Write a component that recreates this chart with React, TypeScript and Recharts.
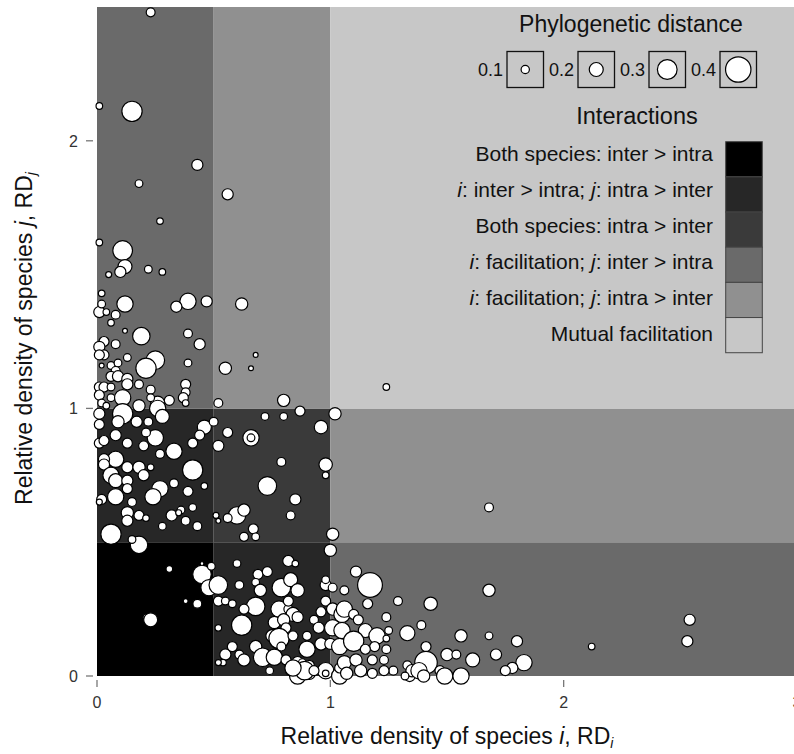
import React from 'react'
import { Label, ReferenceArea, Scatter, ScatterChart, XAxis, YAxis } from 'recharts'

const FONT = '"Liberation Sans", Arial, Helvetica, sans-serif'

// relative density of species i (x) and j (y), phylogenetic distance of the pair (bubble size)
const rdI = [
  0.23, 0.01, 0.15, 0.43, 0.18, 0.56, 0.27, 0.01, 0.11, 0.12,
  0.10, 0.05, 0.22, 0.28, 0.02, 0.39, 0.34, 0.47, 0.62, 0.12,
  0.01, 0.02, 0.04, 0.08, 0.06, 0.12, 0.19, 0.39, 0.44, 0.03,
  0.01, 0.03, 0.01, 0.08, 0.13, 0.25, 0.21, 0.39, 0.68, 0.66,
  0.55, 0.02, 0.06, 0.09, 0.08, 0.06, 0.09, 0.13, 0.13, 0.18,
  0.38, 0.38, 0.37, 0.01, 0.03, 0.06, 0.01, 0.06, 0.11, 0.23,
  0.26, 0.31, 0.23, 0.02, 0.04, 0.11, 0.18, 0.26, 0.28, 0.22,
  0.17, 0.09, 0.01, 0.01, 0.38, 0.01, 0.03, 0.08, 0.13, 0.25,
  0.20, 0.21, 0.46, 0.50, 0.44, 0.41, 0.33, 0.27, 0.08, 0.03,
  0.03, 0.13, 0.18, 0.20, 0.23, 0.41, 0.06, 0.08, 0.13, 0.13,
  0.33, 0.27, 0.24, 0.39, 0.46, 0.08, 0.02, 0.01, 0.15, 0.18,
  0.13, 0.13, 0.21, 0.32, 0.36, 0.41, 0.38, 0.43, 0.35, 0.28,
  0.06, 0.18, 0.15, 0.51, 0.52, 0.52, 0.80, 0.56, 0.52, 0.72,
  0.80, 0.87, 1.02, 0.66, 0.66, 0.96, 0.79, 0.98, 0.98, 0.73,
  0.85, 0.60, 0.63, 0.56, 0.83, 0.67, 0.68, 0.63, 1.01, 1.24,
  1.00, 0.82, 0.85, 0.60, 0.31, 0.45, 0.48, 0.52, 0.45, 0.49,
  0.61, 0.69, 0.73, 0.68, 0.70, 0.79, 0.83, 0.86, 0.98, 0.98,
  1.01, 0.52, 0.43, 0.38, 0.55, 0.58, 0.68, 0.63, 0.78, 0.82,
  0.84, 0.82, 0.98, 1.01, 1.05, 0.21, 0.23, 0.52, 0.62, 0.76,
  0.80, 0.81, 0.86, 0.93, 0.95, 1.01, 0.96, 0.75, 0.78, 0.84,
  0.90, 0.68, 0.79, 0.90, 0.96, 1.00, 1.04, 0.58, 0.55, 0.61,
  0.63, 0.54, 0.52, 0.71, 0.76, 0.81, 0.86, 0.88, 0.91, 0.98,
  0.98, 0.74, 0.83, 0.86, 0.91, 1.04, 1.04, 1.11, 1.17, 1.06,
  1.16, 1.29, 1.43, 1.06, 1.10, 1.12, 1.24, 1.39, 1.05, 1.15,
  1.20, 1.25, 1.24, 1.33, 1.56, 1.10, 1.19, 1.24, 1.15, 1.41,
  1.41, 1.50, 1.54, 1.61, 1.06, 1.11, 1.18, 1.23, 1.33, 1.27,
  1.07, 1.13, 1.18, 1.23, 1.34, 1.35, 1.47, 1.49, 1.56, 1.38,
  1.68, 1.68, 1.68, 1.80, 2.12, 2.54, 2.53, 1.71, 1.83, 1.78,
  1.75, 1.40, 1.32, 0.89, 0.93, 0.84,
]

const rdJ = [
  2.48, 2.13, 2.11, 1.91, 1.84, 1.80, 1.70, 1.62, 1.59, 1.53,
  1.51, 1.50, 1.52, 1.51, 1.43, 1.40, 1.38, 1.40, 1.39, 1.39,
  1.36, 1.39, 1.36, 1.35, 1.32, 1.29, 1.27, 1.28, 1.24, 1.25,
  1.23, 1.20, 1.20, 1.24, 1.19, 1.18, 1.15, 1.17, 1.20, 1.15,
  1.15, 1.16, 1.16, 1.17, 1.14, 1.12, 1.12, 1.11, 1.09, 1.09,
  1.09, 1.06, 1.04, 1.08, 1.08, 1.08, 1.05, 1.04, 1.04, 1.07,
  1.02, 1.03, 1.04, 1.02, 1.01, 0.98, 1.01, 1.00, 0.97, 0.95,
  0.95, 0.95, 0.98, 0.94, 1.02, 0.87, 0.88, 0.90, 0.87, 0.89,
  0.86, 0.91, 0.93, 0.95, 0.90, 0.87, 0.84, 0.83, 0.81, 0.81,
  0.79, 0.78, 0.78, 0.75, 0.78, 0.77, 0.75, 0.73, 0.73, 0.70,
  0.72, 0.70, 0.67, 0.69, 0.71, 0.67, 0.66, 0.65, 0.65, 0.60,
  0.61, 0.58, 0.59, 0.60, 0.62, 0.63, 0.58, 0.56, 0.61, 0.56,
  0.53, 0.49, 0.51, 0.60, 0.58, 1.02, 1.03, 0.91, 0.86, 0.97,
  0.97, 0.99, 0.98, 0.89, 0.89, 0.93, 0.80, 0.79, 0.75, 0.71,
  0.66, 0.60, 0.62, 0.59, 0.60, 0.55, 0.52, 0.52, 0.53, 1.08,
  0.47, 0.43, 0.42, 0.42, 0.40, 0.38, 0.33, 0.34, 0.42, 0.41,
  0.34, 0.38, 0.39, 0.35, 0.32, 0.33, 0.36, 0.32, 0.34, 0.36,
  0.33, 0.28, 0.27, 0.28, 0.28, 0.27, 0.26, 0.25, 0.25, 0.25,
  0.23, 0.28, 0.28, 0.25, 0.23, 0.22, 0.21, 0.18, 0.19, 0.20,
  0.21, 0.18, 0.22, 0.21, 0.18, 0.18, 0.24, 0.15, 0.14, 0.15,
  0.15, 0.11, 0.11, 0.10, 0.12, 0.12, 0.11, 0.11, 0.08, 0.08,
  0.06, 0.05, 0.05, 0.07, 0.07, 0.06, 0.05, 0.05, 0.04, 0.02,
  0.01, 0.02, 0.02, 0.00, 0.01, 0.00, 0.03, 0.39, 0.34, 0.32,
  0.27, 0.28, 0.27, 0.25, 0.23, 0.21, 0.22, 0.19, 0.17, 0.17,
  0.15, 0.17, 0.14, 0.16, 0.15, 0.13, 0.11, 0.10, 0.10, 0.11,
  0.05, 0.08, 0.08, 0.06, 0.05, 0.06, 0.06, 0.06, 0.04, 0.02,
  0.01, 0.02, 0.01, 0.02, 0.00, 0.02, 0.02, 0.00, 0.00, 0.02,
  0.63, 0.32, 0.15, 0.13, 0.11, 0.21, 0.13, 0.08, 0.05, 0.03,
  0.02, 0.00, 0.00, 0.02, 0.02, 0.03,
]

const phyloDist = [
  0.11, 0.07, 0.31, 0.15, 0.09, 0.15, 0.07, 0.07, 0.30, 0.20,
  0.15, 0.06, 0.09, 0.07, 0.07, 0.24, 0.15, 0.15, 0.17, 0.24,
  0.15, 0.09, 0.07, 0.11, 0.07, 0.04, 0.26, 0.11, 0.15, 0.13,
  0.15, 0.13, 0.13, 0.11, 0.09, 0.28, 0.31, 0.09, 0.04, 0.04,
  0.17, 0.04, 0.09, 0.09, 0.11, 0.13, 0.15, 0.15, 0.15, 0.11,
  0.13, 0.11, 0.13, 0.13, 0.13, 0.09, 0.13, 0.09, 0.24, 0.11,
  0.20, 0.13, 0.09, 0.09, 0.07, 0.31, 0.17, 0.24, 0.20, 0.11,
  0.15, 0.17, 0.15, 0.13, 0.07, 0.13, 0.13, 0.15, 0.13, 0.24,
  0.13, 0.11, 0.20, 0.11, 0.13, 0.13, 0.24, 0.11, 0.24, 0.15,
  0.15, 0.15, 0.17, 0.15, 0.07, 0.31, 0.24, 0.20, 0.15, 0.13,
  0.11, 0.24, 0.24, 0.13, 0.07, 0.24, 0.13, 0.06, 0.11, 0.13,
  0.17, 0.15, 0.07, 0.15, 0.09, 0.09, 0.11, 0.11, 0.06, 0.09,
  0.31, 0.26, 0.09, 0.06, 0.04, 0.11, 0.17, 0.13, 0.15, 0.09,
  0.09, 0.13, 0.17, 0.24, 0.09, 0.19, 0.11, 0.19, 0.07, 0.28,
  0.15, 0.26, 0.17, 0.11, 0.11, 0.13, 0.09, 0.11, 0.17, 0.07,
  0.17, 0.15, 0.07, 0.09, 0.07, 0.28, 0.24, 0.28, 0.02, 0.09,
  0.11, 0.13, 0.13, 0.09, 0.17, 0.28, 0.20, 0.19, 0.15, 0.09,
  0.11, 0.13, 0.11, 0.04, 0.09, 0.09, 0.28, 0.13, 0.24, 0.11,
  0.20, 0.13, 0.13, 0.17, 0.24, 0.06, 0.20, 0.07, 0.31, 0.17,
  0.17, 0.13, 0.15, 0.11, 0.15, 0.24, 0.13, 0.17, 0.31, 0.13,
  0.11, 0.17, 0.11, 0.24, 0.17, 0.15, 0.24, 0.13, 0.15, 0.11,
  0.17, 0.07, 0.06, 0.28, 0.24, 0.13, 0.17, 0.09, 0.13, 0.24,
  0.07, 0.09, 0.13, 0.24, 0.17, 0.24, 0.13, 0.15, 0.39, 0.11,
  0.13, 0.11, 0.19, 0.24, 0.13, 0.13, 0.11, 0.11, 0.24, 0.20,
  0.24, 0.09, 0.07, 0.22, 0.17, 0.31, 0.13, 0.11, 0.13, 0.13,
  0.35, 0.17, 0.11, 0.20, 0.20, 0.17, 0.13, 0.11, 0.11, 0.11,
  0.17, 0.17, 0.13, 0.13, 0.15, 0.17, 0.13, 0.24, 0.24, 0.24,
  0.11, 0.17, 0.09, 0.15, 0.07, 0.15, 0.15, 0.15, 0.24, 0.15,
  0.13, 0.17, 0.09, 0.28, 0.13, 0.24,
]

const xTicks = [0, 1, 2, 3]
const yTicks = [0, 1, 2]
const sizeSteps = [0.1, 0.2, 0.3, 0.4]

const interactionLabels = [
  'Both species: inter > intra',
  '*i*: inter > intra; *j*: intra > inter',
  'Both species: intra > inter',
  '*i*: facilitation; *j*: inter > intra',
  '*i*: facilitation; *j*: intra > inter',
  'Mutual facilitation',
]
const interactionColors = ['#000000', '#272727', '#3a3a3a', '#6a6a6a', '#909090', '#c7c7c7']

// which interaction class each RD cell belongs to
const zones = [
  { x: [0, 0.5], y: [0, 0.5], k: 0 },
  { x: [0, 0.5], y: [0.5, 1], k: 1 },
  { x: [0.5, 1], y: [0, 0.5], k: 1 },
  { x: [0.5, 1], y: [0.5, 1], k: 2 },
  { x: [1, 3], y: [0, 0.5], k: 3 },
  { x: [0, 0.5], y: [1, 2.5], k: 3 },
  { x: [1, 3], y: [0.5, 1], k: 4 },
  { x: [0.5, 1], y: [1, 2.5], k: 4 },
  { x: [1, 3], y: [1, 2.5], k: 5 },
]

const points = rdI.map((x, i) => ({ x, y: rdJ[i], d: phyloDist[i] }))

const bubbleRadius = (d: number) => 1.3 + 28.5 * d

function Bubble(props: any) {
  if (props.cx == null || props.cy == null) return null
  return <circle cx={props.cx} cy={props.cy} r={bubbleRadius(props.payload.d)} fill="#fff" stroke="#000" strokeWidth={1.2} />
}

function XTick({ x, y, payload }: any) {
  return (
    <g>
      <line x1={x} x2={x} y1={y + 4} y2={y + 11} stroke="#777" strokeWidth={1.3} />
      <text x={x} y={y + 32} textAnchor="middle" fontSize={16} fill="#333" fontFamily={FONT}>{payload.value}</text>
    </g>
  )
}

function YTick({ x, y, payload }: any) {
  return (
    <g>
      <line x1={x - 11} x2={x - 4} y1={y} y2={y} stroke="#777" strokeWidth={1.3} />
      <text x={x - 19} y={y + 6} textAnchor="end" fontSize={16} fill="#333" fontFamily={FONT}>{payload.value}</text>
    </g>
  )
}

function XTitle({ viewBox }: any) {
  const cx = viewBox ? viewBox.x + viewBox.width / 2 : 447
  return (
    <text x={cx} y={744} textAnchor="middle" fontSize={23} fill="#111" fontFamily={FONT}>
      Relative density of species <tspan fontStyle="italic">i</tspan>, RD
      <tspan fontStyle="italic" fontSize={14} dy={4}>i</tspan>
    </text>
  )
}

function YTitle({ viewBox }: any) {
  const cy = viewBox ? viewBox.y + viewBox.height / 2 - 3 : 338
  const cx = 32
  return (
    <text x={cx} y={cy} transform={`rotate(-90, ${cx}, ${cy})`} textAnchor="middle" fontSize={23} fill="#111" fontFamily={FONT}>
      Relative density of species <tspan fontStyle="italic">j</tspan>, RD
      <tspan fontStyle="italic" fontSize={14} dy={4}>j</tspan>
    </text>
  )
}

function richText(label: string) {
  return label.split('*').map((part, i) => (
    <tspan key={i} fontStyle={i % 2 === 1 ? 'italic' : 'normal'}>{part}</tspan>
  ))
}

function LegendPanel() {
  return (
    <svg width={794} height={754} style={{ position: 'absolute', left: 0, top: 0, pointerEvents: 'none' }} fontFamily={FONT}>
      <text x={631} y={32} textAnchor="middle" fontSize={23} fill="#111">Phylogenetic distance</text>
      {sizeSteps.map((d, i) => {
        const bx = 507 + i * 71
        return (
          <g key={d}>
            <text x={bx - 4} y={76} textAnchor="end" fontSize={18} fill="#111">{d.toFixed(1)}</text>
            <rect x={bx} y={51.5} width={36.5} height={36} fill="none" stroke="#111" strokeWidth={1.3} />
            <circle cx={bx + 18.25} cy={69.5} r={bubbleRadius(d)} fill="#fff" stroke="#000" strokeWidth={1.2} />
          </g>
        )
      })}
      <text x={637} y={124} textAnchor="middle" fontSize={23.5} fill="#111">Interactions</text>
      {interactionLabels.map((lab, i) => (
        <g key={lab}>
          <rect x={725.7} y={141.7 + i * 35.17} width={36.6} height={35.17} fill={interactionColors[i]} stroke="#444" strokeWidth={1} />
          <text x={713} y={160.5 + i * 36} textAnchor="end" fontSize={21} fill="#111">{richText(lab)}</text>
        </g>
      ))}
    </svg>
  )
}

export default function App() {
  return (
    <div style={{ position: 'absolute', left: 0, top: 0, width: 794, height: 754, overflow: 'hidden', background: '#fff' }}>
      <ScatterChart width={800} height={754} margin={{ top: 7, right: 3, bottom: 0, left: 0 }}>
        <XAxis type="number" dataKey="x" domain={[0, 3]} ticks={xTicks} interval={0} height={78}
          axisLine={false} tickLine={false} tickSize={0} tickMargin={0} tick={<XTick />}>
          <Label content={<XTitle />} />
        </XAxis>
        <YAxis type="number" dataKey="y" domain={[0, 2.5]} ticks={yTicks} interval={0} width={97}
          axisLine={false} tickLine={false} tickSize={0} tickMargin={0} tick={<YTick />}>
          <Label content={<YTitle />} />
        </YAxis>
        {zones.map((z, i) => (
          <ReferenceArea key={i} x1={z.x[0]} x2={z.x[1]} y1={z.y[0]} y2={z.y[1]}
            fill={interactionColors[z.k]} fillOpacity={1} stroke="none" ifOverflow="visible" />
        ))}
        <Scatter data={points} isAnimationActive={false} shape={<Bubble />} />
      </ScatterChart>
      <LegendPanel />
    </div>
  )
}
